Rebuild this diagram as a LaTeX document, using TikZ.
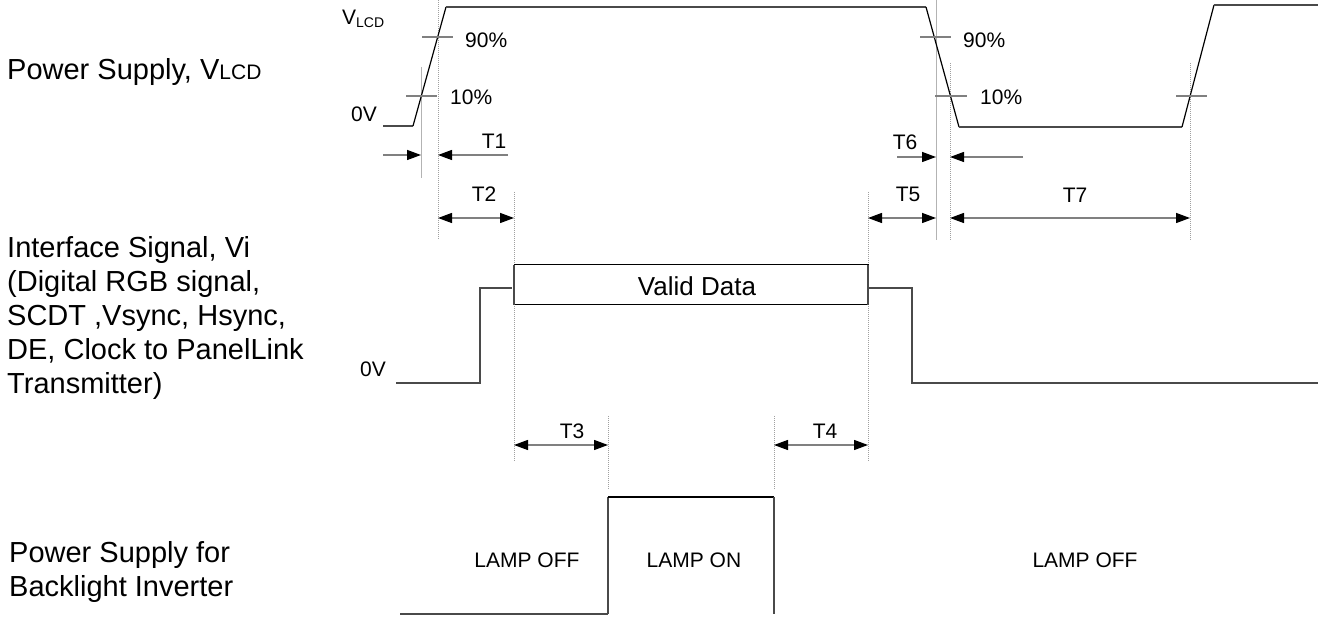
\documentclass[tikz,border=0pt]{standalone}
\usepackage{fontspec}
\setmainfont{Liberation Sans}
\usetikzlibrary{arrows.meta}
\definecolor{wavecol}{HTML}{4A4A4A}
\definecolor{dimcol}{HTML}{808080}
\definecolor{guidecol}{HTML}{A0A0A0}
\tikzset{
  wave/.style={line width=1.5pt, draw=wavecol, line join=miter},
  edge/.style={line width=1.2pt, draw=black},
  tickmark/.style={line width=1.1pt, draw=dimcol},
  guide/.style={line width=0.9pt, draw=guidecol, dash pattern=on 1pt off 1pt},
  guidesolid/.style={line width=0.9pt, draw=guidecol!80},
  tipA/.tip={Triangle[length=14pt,width=10pt,color=black]},
  dimarrow/.style={line width=1.3pt, draw=dimcol, -tipA},
  dimboth/.style={line width=1.3pt, draw=dimcol, tipA-tipA},
  lbl/.style={inner sep=0pt, font=\fontsize{21}{25}\selectfont},
  biglbl/.style={inner sep=0pt, anchor=base west, align=left, font=\fontsize{29}{34}\selectfont},
}
\begin{document}
\begin{tikzpicture}[x=1pt,y=-1pt]
\useasboundingbox (0,0) rectangle (1318,617);
% ---------- left labels (anchored at the baseline of the last line) ----------
\node[biglbl] (lab1) at (7,80) {Power Supply, V{\fontsize{21}{21}\selectfont LCD}};
\node[biglbl] (lab2) at (7,394) {Interface Signal, Vi\\(Digital RGB signal,\\SCDT ,Vsync, Hsync,\\DE, Clock to PanelLink\\Transmitter)};
\node[biglbl] (lab3) at (9,596) {Power Supply for\\Backlight Inverter};
% ---------- guide lines ----------
\coordinate (g1a) at (421,67);  \coordinate (g1b) at (421,178);
\coordinate (g2a) at (438,0);   \coordinate (g2b) at (438,240);
\coordinate (g3a) at (936,0);   \coordinate (g3b) at (936,240);
\coordinate (g4a) at (950,63);  \coordinate (g4b) at (950,240);
\coordinate (g5a) at (1190,63); \coordinate (g5b) at (1190,240);
\coordinate (g6a) at (514,192); \coordinate (g6b) at (514,462);
\coordinate (g7a) at (868,192); \coordinate (g7b) at (868,462);
\coordinate (g8a) at (608,416); \coordinate (g8b) at (608,490);
\coordinate (g9a) at (774,416); \coordinate (g9b) at (774,490);
\draw[guidesolid] (g1a) -- (g1b);
\draw[guide] (g2a) -- (g2b);
\draw[guidesolid] (g3a) -- (g3b);
\draw[guide] (g4a) -- (g4b);
\draw[guide] (g5a) -- (g5b);
\draw[guide] (g6a) -- (g6b);
\draw[guide] (g7a) -- (g7b);
\draw[guide] (g8a) -- (g8b);
\draw[guide] (g9a) -- (g9b);
% ---------- VLCD waveform ----------
\coordinate (v0) at (383,126);
\coordinate (v1) at (413,126);
\coordinate (v2) at (446,7);
\coordinate (v3) at (926,7);
\coordinate (v4) at (959,127);
\coordinate (v5) at (1182,127);
\coordinate (v6) at (1214,5);
\coordinate (v7) at (1318,5);
\draw[wave] (v0) -- (v1);
\draw[edge] (v1) -- (v2);
\draw[wave] (v2) -- (v3);
\draw[edge] (v3) -- (v4);
\draw[wave] (v4) -- (v5);
\draw[edge] (v5) -- (v6);
\draw[wave] (v6) -- (v7);
% ticks
\draw[tickmark] (406,96) -- (437,96);
\draw[tickmark] (422,37) -- (453,37);
\draw[tickmark] (920,37) -- (951,37);
\draw[tickmark] (935,96) -- (967,96);
\draw[tickmark] (1176,96) -- (1207,96);
% labels
\node[lbl, anchor=west] (vlcd) at (342,19) {V\raisebox{-0.3ex}{\fontsize{14}{14}\selectfont LCD}};
\node[lbl] (zv1) at (364,114) {0V};
\node[lbl, anchor=west] (p90a) at (465,40) {90\%};
\node[lbl, anchor=west] (p10a) at (450,97) {10\%};
\node[lbl, anchor=west] (p90b) at (963,40) {90\%};
\node[lbl, anchor=west] (p10b) at (980,97) {10\%};
% ---------- T1 / T6 ----------
\coordinate (t1l) at (383,155); \coordinate (t1m) at (421,155);
\coordinate (t1n) at (438,155); \coordinate (t1r) at (508,155);
\draw[dimarrow] (t1l) -- (t1m);
\draw[dimarrow] (t1r) -- (t1n);
\node[lbl] (T1) at (494,141) {T1};
\coordinate (t6l) at (897,157); \coordinate (t6m) at (936,157);
\coordinate (t6n) at (950,157); \coordinate (t6r) at (1023,157);
\draw[dimarrow] (t6l) -- (t6m);
\draw[dimarrow] (t6r) -- (t6n);
\node[lbl] (T6) at (905,142) {T6};
% ---------- T2 / T5 / T7 ----------
\coordinate (t2l) at (438,218); \coordinate (t2r) at (514,218);
\draw[dimboth] (t2l) -- (t2r);
\node[lbl] (T2) at (484,194) {T2};
\coordinate (t5l) at (868,218); \coordinate (t5r) at (936,218);
\draw[dimboth] (t5l) -- (t5r);
\node[lbl] (T5) at (908,194) {T5};
\coordinate (t7l) at (950,218); \coordinate (t7r) at (1190,218);
\draw[dimboth] (t7l) -- (t7r);
\node[lbl] (T7) at (1075,195) {T7};
% ---------- interface signal ----------
\coordinate (i0) at (396,383);
\coordinate (i1) at (480,383);
\coordinate (i2) at (480,288);
\coordinate (i3) at (512,288);
\coordinate (i4) at (868,288);
\coordinate (i5) at (912,288);
\coordinate (i6) at (912,383);
\coordinate (i7) at (1318,383);
\draw[wave] (i0) -- (i1) -- (i2) -- (i3);
\draw[wave] (i4) -- (i5) -- (i6) -- (i7);
\draw[line width=1pt, draw=black] (514,265) rectangle (868,305);
\draw[line width=2pt, draw=wavecol] (514,265) -- (514,305);
\draw[line width=2pt, draw=wavecol] (868,265) -- (868,305);
\node[inner sep=0pt, font=\fontsize{26}{30}\selectfont] (vd) at (697,286) {Valid Data};
\node[lbl] (zv2) at (373,369) {0V};
% ---------- T3 / T4 ----------
\coordinate (t3l) at (514,445); \coordinate (t3r) at (608,445);
\draw[dimboth] (t3l) -- (t3r);
\node[lbl] (T3) at (572,431) {T3};
\coordinate (t4l) at (774,445); \coordinate (t4r) at (868,445);
\draw[dimboth] (t4l) -- (t4r);
\node[lbl] (T4) at (825,431) {T4};
% ---------- backlight ----------
\coordinate (b0) at (400,614);
\coordinate (b1) at (608,614);
\coordinate (b2) at (608,497);
\coordinate (b3) at (774,497);
\coordinate (b4) at (774,614);
\draw[wave] (b0) -- (b1);
\draw[wave] (b1) -- (b2);
\draw[edge] (b2) -- (b3);
\draw[wave] (b3) -- (b4);
\node[lbl] (off1) at (527,560) {LAMP OFF};
\node[lbl] (on1) at (694,560) {LAMP ON};
\node[lbl] (off2) at (1085,560) {LAMP OFF};
\end{tikzpicture}
\end{document}
